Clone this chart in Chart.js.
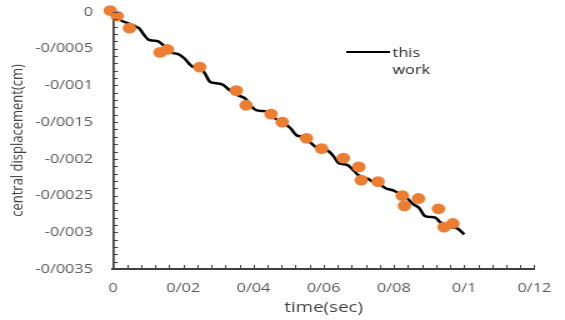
<!DOCTYPE html>
<html>
<head>
<meta charset="utf-8">
<script src="https://cdn.jsdelivr.net/npm/chart.js@4"></script>
<style>
  html, body { margin: 0; padding: 0; background: #fff; overflow: hidden; }
  /* the source picture is stretched sideways, so the canvas is too */
  #wrap { width: 452px; height: 320px; transform: scaleX(1.25); transform-origin: 0 0; }
</style>
</head>
<body>
<div id="wrap"><canvas id="chart" width="452" height="320"></canvas></div>
<script>
// ===== Data =====
const lineTime = [0, 0.0022, 0.0047, 0.0065, 0.0074, 0.0088, 0.0102, 0.0116, 0.0129, 0.0143,
    0.0157, 0.0171, 0.0184, 0.0203, 0.0216, 0.0230, 0.0248, 0.0262, 0.0276, 0.0294,
    0.0313, 0.0331, 0.0354, 0.0377, 0.0395, 0.0409, 0.0432, 0.0448, 0.0459, 0.0481,
    0.0505, 0.0523, 0.0542, 0.0565, 0.0578, 0.0594, 0.0615, 0.0629, 0.0643, 0.0666,
    0.0684, 0.0698, 0.0725, 0.0739, 0.0756, 0.0776, 0.0798, 0.0817, 0.0836, 0.0853,
    0.0872, 0.0886, 0.0899, 0.0918, 0.0931, 0.0954, 0.0982, 0.1000];
const lineDisp = [0, -0.00011, -0.00016, -0.00020, -0.00022, -0.00031, -0.00038, -0.00039, -0.00040, -0.00045,
    -0.00052, -0.00056, -0.00057, -0.00063, -0.00070, -0.00075, -0.00075, -0.00084, -0.00095, -0.00097,
    -0.00099, -0.00106, -0.00113, -0.00118, -0.00129, -0.00134, -0.00135, -0.00138, -0.00144, -0.00150,
    -0.00158, -0.00168, -0.00170, -0.00179, -0.00184, -0.00185, -0.00190, -0.00197, -0.00206, -0.00208,
    -0.00215, -0.00222, -0.00227, -0.00231, -0.00233, -0.00240, -0.00243, -0.00248, -0.00253, -0.00261,
    -0.00267, -0.00277, -0.00279, -0.00280, -0.00286, -0.00292, -0.00295, -0.00303];

const dotTime = [-0.0008, 0.0012, 0.0047, 0.0134, 0.0155, 0.0247, 0.0351, 0.0379, 0.0450, 0.0482,
    0.0551, 0.0594, 0.0656, 0.0700, 0.0707, 0.0755, 0.0824, 0.0830, 0.0870, 0.0927,
    0.0943, 0.0968];
const dotDisp = [0.00002, -0.000055, -0.00022, -0.00055, -0.00051, -0.00075, -0.00107, -0.00127, -0.00139, -0.00150,
    -0.00172, -0.00186, -0.00199, -0.00211, -0.00229, -0.00231, -0.00250, -0.00264, -0.00254, -0.00268,
    -0.00293, -0.00288];

const xTicks = [0, 0.02, 0.04, 0.06, 0.08, 0.1, 0.12];
const xTickLabels = ["0", "0/02", "0/04", "0/06", "0/08", "0/1", "0/12"];
const yTicks = [-0.0035, -0.003, -0.0025, -0.002, -0.0015, -0.001, -0.0005, 0];
const yTickLabels = ["-0/0035", "-0/003", "-0/0025", "-0/002", "-0/0015", "-0/001", "-0/0005", "0"];

const lineLabel = "this work";

// ===== Small inward tick marks on both axes =====
const minorTicks = {
    id: "minorTicks",
    afterDraw(chart) {
        const { ctx, chartArea, scales } = chart;
        ctx.save();
        ctx.strokeStyle = "#404040";
        ctx.lineWidth = 1;
        ctx.beginPath();
        for (let i = 0; i <= 30; i++) {
            const x = Math.round(scales.x.getPixelForValue(i * 0.004)) + 0.5;
            ctx.moveTo(x, chartArea.bottom);
            ctx.lineTo(x, chartArea.bottom - 4);
        }
        for (let i = 0; i <= 35; i++) {
            const y = Math.round(scales.y.getPixelForValue(-i * 0.0001)) + 0.5;
            ctx.moveTo(chartArea.left, y);
            ctx.lineTo(chartArea.left + 4, y);
        }
        ctx.stroke();
        ctx.restore();
    }
};

// ===== Legend sitting inside the plot =====
const innerLegend = {
    id: "innerLegend",
    afterDraw(chart) {
        const ds = chart.data.datasets[1];
        const { ctx } = chart;
        ctx.save();
        ctx.strokeStyle = ds.borderColor;
        ctx.lineWidth = 2.2;
        ctx.beginPath();
        ctx.moveTo(277, 52);
        ctx.lineTo(312, 52);
        ctx.stroke();
        ctx.fillStyle = "#262626";
        ctx.font = "13px 'Open Sans'";
        ctx.textBaseline = "middle";
        ds.label.split(" ").forEach((word, i) => {
            ctx.fillText(word, 314, 53 + i * 17);
        });
        ctx.restore();
    }
};

new Chart(document.getElementById("chart"), {
    type: "scatter",
    data: {
        datasets: [
            {
                label: "points",
                data: dotTime.map((t, i) => ({ x: t, y: dotDisp[i] })),
                backgroundColor: "#ED7D31",
                borderWidth: 0,
                pointRadius: 5.4,
                pointHoverRadius: 5.4,
                clip: false
            },
            {
                label: lineLabel,
                type: "line",
                data: lineTime.map((t, i) => ({ x: t, y: lineDisp[i] })),
                borderColor: "#000000",
                borderWidth: 2.5,
                pointRadius: 0,
                cubicInterpolationMode: "monotone",
                fill: false
            }
        ]
    },
    options: {
        responsive: false,
        animation: false,
        devicePixelRatio: 1,
        layout: { padding: { left: 0, right: 13, top: 12, bottom: 0 } },
        plugins: {
            legend: { display: false },
            tooltip: { enabled: false }
        },
        scales: {
            x: {
                type: "linear",
                min: 0,
                max: 0.12,
                afterBuildTicks: s => { s.ticks = xTicks.map(v => ({ value: v })); },
                afterFit: s => { s.height = 51; s.paddingTop = 0; s.paddingBottom = 0; },
                ticks: {
                    callback: v => xTickLabels[xTicks.indexOf(v)],
                    color: "#595959",
                    font: { family: "'Open Sans'", size: 13 },
                    padding: 11,
                    maxRotation: 0,
                    autoSkip: false
                },
                grid: { display: false, drawTicks: false },
                border: { display: true, color: "#404040", width: 2 },
                title: {
                    display: true,
                    text: "time(sec)",
                    color: "#404040",
                    font: { family: "'Open Sans'", size: 15 },
                    padding: { top: 0, bottom: 3 }
                }
            },
            y: {
                type: "linear",
                min: -0.0035,
                max: 0,
                afterBuildTicks: s => { s.ticks = yTicks.map(v => ({ value: v })); },
                afterFit: s => { s.width = 90.4; s.paddingTop = 0; s.paddingBottom = 0; },
                ticks: {
                    callback: v => yTickLabels[yTicks.indexOf(v)],
                    color: "#595959",
                    font: { family: "'Open Sans'", size: 13 },
                    padding: 16,
                    autoSkip: false
                },
                grid: { display: false, drawTicks: false },
                border: { display: true, color: "#404040", width: 1.7 },
                title: {
                    display: true,
                    text: "central displacement(cm)",
                    color: "#404040",
                    font: { family: "'Open Sans'", size: 13 },
                    padding: { top: 6, bottom: 0 }
                }
            }
        }
    },
    plugins: [minorTicks, innerLegend]
});
</script>
</body>
</html>
